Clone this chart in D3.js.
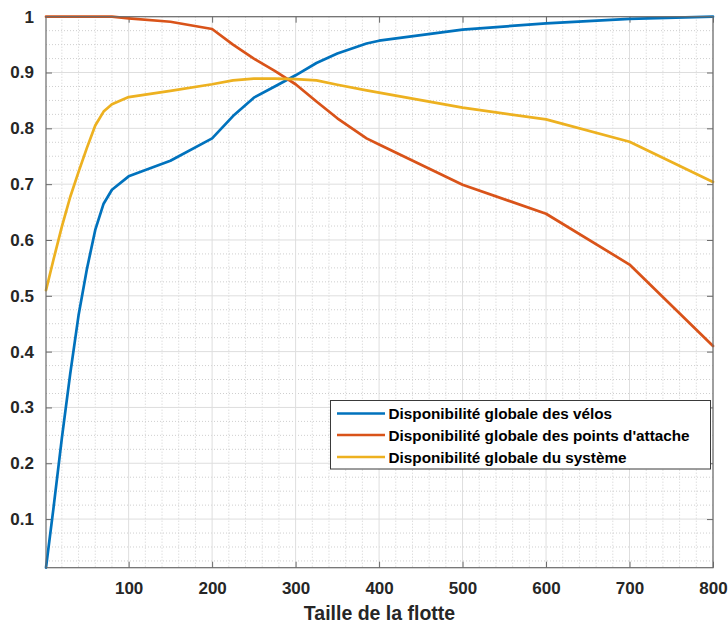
<!DOCTYPE html>
<html>
<head>
<meta charset="utf-8">
<script src="https://cdn.jsdelivr.net/npm/d3@7"></script>
<style>
  html, body { margin: 0; padding: 0; background: #fff; }
  svg { display: block; font-family: "Liberation Sans", Arial, sans-serif; }
</style>
</head>
<body>
<svg id="chart" width="728" height="624"></svg>
<script>
// ---- data ----
const fleetSizes = [1, 10, 20, 30, 40, 50, 60, 70, 80, 100, 150, 200, 225, 250, 275, 300, 325, 350, 385, 400, 500, 600, 700, 800];
const bikeAvail =  [0.0129, 0.12, 0.245, 0.36, 0.465, 0.548, 0.618, 0.665, 0.69, 0.714, 0.742, 0.782, 0.822, 0.855, 0.875, 0.895, 0.917, 0.934, 0.952, 0.957, 0.977, 0.988, 0.996, 1.0];
const dockAvail =  [1.0, 1.0, 1.0, 1.0, 1.0, 1.0, 1.0, 1.0, 1.0, 0.997, 0.991, 0.978, 0.95, 0.925, 0.903, 0.879, 0.848, 0.818, 0.782, 0.771, 0.699, 0.647, 0.556, 0.41];
const sysAvail =   [0.51, 0.565, 0.624, 0.677, 0.722, 0.765, 0.805, 0.83, 0.843, 0.856, 0.867, 0.879, 0.886, 0.889, 0.889, 0.888, 0.886, 0.878, 0.868, 0.864, 0.837, 0.816, 0.776, 0.704];
const seriesNames = ["Disponibilité globale des vélos", "Disponibilité globale des points d'attache", "Disponibilité globale du système"];
const xTicks = [100, 200, 300, 400, 500, 600, 700, 800];
const yTicks = [0.1, 0.2, 0.3, 0.4, 0.5, 0.6, 0.7, 0.8, 0.9, 1];
const xLabel = "Taille de la flotte";

// ---- layout ----
const colors = ["#0072BD", "#D95319", "#EDB120"];
const L = 46, R = 713, T = 16.7, B = 567.7;
const svg = d3.select("#chart");
const x = d3.scaleLinear().domain([1, 800]).range([L, R]);
const y = d3.scaleLinear().domain([0.0129, 1]).range([B, T]);

// minor grid
const xMinor = d3.range(20, 800, 20).filter(v => v % 100 !== 0);
const yMinor = d3.range(0.025, 1, 0.025).filter(v => Math.abs(v * 10 - Math.round(v * 10)) > 1e-6 && y(v) < B);
const g = svg.append("g");
g.selectAll(".xm").data(xMinor).join("line")
  .attr("x1", d => x(d)).attr("x2", d => x(d)).attr("y1", T).attr("y2", B)
  .attr("stroke", "#cfcfcf").attr("stroke-width", 1).attr("stroke-dasharray", "1,2");
g.selectAll(".ym").data(yMinor).join("line")
  .attr("y1", d => y(d)).attr("y2", d => y(d)).attr("x1", L).attr("x2", R)
  .attr("stroke", "#cfcfcf").attr("stroke-width", 1).attr("stroke-dasharray", "1,2");
// major grid
g.selectAll(".xg").data(xTicks).join("line")
  .attr("x1", d => x(d)).attr("x2", d => x(d)).attr("y1", T).attr("y2", B)
  .attr("stroke", "#dedede").attr("stroke-width", 1);
g.selectAll(".yg").data(yTicks).join("line")
  .attr("y1", d => y(d)).attr("y2", d => y(d)).attr("x1", L).attr("x2", R)
  .attr("stroke", "#dedede").attr("stroke-width", 1);

// axes
const tickLen = 6;
const xAxisB = d3.axisBottom(x).tickValues(xTicks).tickSize(-tickLen).tickPadding(14).tickFormat(d3.format("d"));
const xAxisT = d3.axisTop(x).tickValues(xTicks).tickSize(-tickLen).tickFormat("");
const yAxisL = d3.axisLeft(y).tickValues(yTicks).tickSize(-tickLen).tickPadding(12).tickFormat(d => d === 1 ? "1" : d3.format(".1f")(d));
const yAxisR = d3.axisRight(y).tickValues(yTicks).tickSize(-tickLen).tickFormat("");

function style(sel) {
  sel.select(".domain").remove();
  sel.selectAll(".tick line").attr("stroke", "#6a6a6a").attr("stroke-width", 1);
  sel.selectAll(".tick text").attr("fill", "#262626").attr("font-size", "17px").attr("font-weight", "bold")
     .attr("font-family", "Liberation Sans, Arial, sans-serif");
}
svg.append("g").attr("transform", `translate(0,${B})`).call(xAxisB).call(style);
svg.append("g").attr("transform", `translate(0,${T})`).call(xAxisT).call(style);
svg.append("g").attr("transform", `translate(${L},0)`).call(yAxisL).call(style);
svg.append("g").attr("transform", `translate(${R},0)`).call(yAxisR).call(style);

// lines
const allSeries = [bikeAvail, dockAvail, sysAvail];
const line = d3.line().x((d, i) => x(fleetSizes[i])).y(d => y(d));
allSeries.forEach((s, k) => {
  svg.append("path").datum(s).attr("d", line)
    .attr("fill", "none").attr("stroke", colors[k]).attr("stroke-width", 2.7)
    .attr("stroke-linejoin", "round").attr("stroke-linecap", "round");
});

// box
svg.append("rect").attr("x", L).attr("y", T).attr("width", R - L).attr("height", B - T)
  .attr("fill", "none").attr("stroke", "#6a6a6a").attr("stroke-width", 1.2);

// x label
svg.append("text").attr("x", (L + R) / 2).attr("y", 620).attr("text-anchor", "middle")
  .attr("font-size", "19.5px").attr("font-weight", "bold").attr("fill", "#262626").text(xLabel);

// legend
const lg = svg.append("g");
lg.append("rect").attr("x", 330.5).attr("y", 400.5).attr("width", 380).attr("height", 68.5)
  .attr("fill", "#fff").attr("stroke", "#3a3a3a").attr("stroke-width", 1);
const rowY = [413.5, 435, 457];
seriesNames.forEach((n, k) => {
  lg.append("line").attr("x1", 337).attr("x2", 385).attr("y1", rowY[k]).attr("y2", rowY[k])
    .attr("stroke", colors[k]).attr("stroke-width", 2.7);
  lg.append("text").attr("x", 388.5).attr("y", rowY[k]).attr("dy", "0.36em")
    .attr("font-size", "15.3px").attr("font-weight", "bold").attr("fill", "#000").text(n);
});
</script>
</body>
</html>
